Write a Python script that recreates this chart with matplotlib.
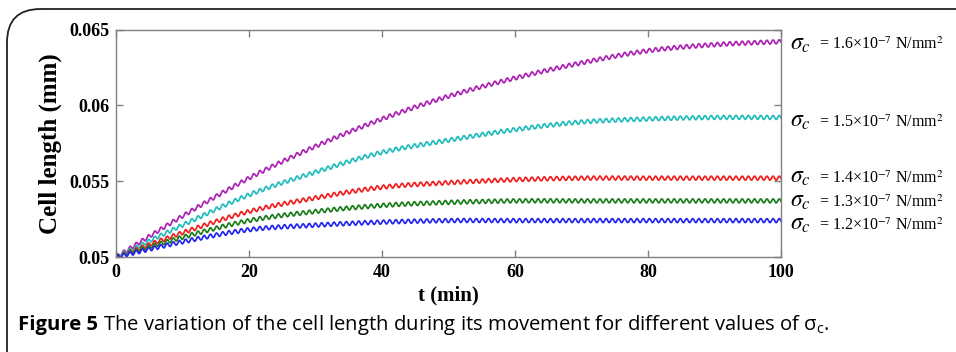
import numpy as np
import matplotlib
matplotlib.use("Agg")
import matplotlib.pyplot as plt
from matplotlib.patches import FancyBboxPatch

# values (cell length in mm, every 10 min)
t_read = [0, 10, 20, 30, 40, 50, 60, 70, 80, 90, 100]
len_16 = [0.0500, 0.0527, 0.0552, 0.0573, 0.0591, 0.0606, 0.0618, 0.0628, 0.0636, 0.0640, 0.0642]
len_15 = [0.0500, 0.0521, 0.0541, 0.0556, 0.0569, 0.0577, 0.0584, 0.0589, 0.0591, 0.0592, 0.0592]
len_14 = [0.0500, 0.0516, 0.0530, 0.0539, 0.0546, 0.0549, 0.0551, 0.0552, 0.0552, 0.0552, 0.0552]
len_13 = [0.0500, 0.0513, 0.0524, 0.0530, 0.0534, 0.0536, 0.0537, 0.0537, 0.0537, 0.0537, 0.0537]
len_12 = [0.0500, 0.0510, 0.0518, 0.0521, 0.0523, 0.0524, 0.0524, 0.0524, 0.0524, 0.0524, 0.0524]
sigma_labels = ["1.6", "1.5", "1.4", "1.3", "1.2"]

# ripple seen on every curve (period in min, half peak-to-peak in mm)
ripple_period = 0.93
ripple_amp = 0.00013

colors = ["#ac22b4", "#22bcbc", "#f02020", "#1a7d1a", "#2424f0"]
label_y = [0.06405, 0.05895, 0.05525, 0.05365, 0.05215]


def hermite(tk, yk, t):
    tk = np.asarray(tk, float)
    yk = np.asarray(yk, float)
    m = np.gradient(yk, tk)
    i = np.clip(np.searchsorted(tk, t) - 1, 0, len(tk) - 2)
    h = tk[i + 1] - tk[i]
    s = (t - tk[i]) / h
    h00 = 2 * s**3 - 3 * s**2 + 1
    h10 = s**3 - 2 * s**2 + s
    h01 = -2 * s**3 + 3 * s**2
    h11 = s**3 - s**2
    return h00 * yk[i] + h10 * h * m[i] + h01 * yk[i + 1] + h11 * h * m[i + 1]


fig = plt.figure(figsize=(9.56, 3.52), dpi=100)
W, H = 956, 352

# rounded frame around the figure panel
frame = FancyBboxPatch((7 / W, -0.2), 1.2, 0.2 + (H - 9) / H,
                       boxstyle="round,pad=0,rounding_size=0.035",
                       transform=fig.transFigure, fill=False,
                       edgecolor="#222222", linewidth=1.3, mutation_aspect=W / H)
fig.patches.append(frame)

ax = fig.add_axes([116 / W, 1 - 257 / H, 665 / W, 227.5 / H])

t = np.linspace(0, 100, 8000)
ripple = ripple_amp * np.sin(2 * np.pi * t / ripple_period)
series = [len_16, len_15, len_14, len_13, len_12]
for vals, c in zip(series, colors):
    ax.plot(t, hermite(t_read, vals, t) + ripple, color=c, linewidth=1.25)

ax.set_xlim(0, 100)
ax.set_ylim(0.05, 0.065)
ax.set_xticks([0, 20, 40, 60, 80, 100])
ax.set_yticks([0.05, 0.055, 0.06, 0.065])
ax.set_yticklabels(["0.05", "0.055", "0.06", "0.065"])
for s in ax.spines.values():
    s.set_color("#808080")
    s.set_linewidth(1.0)
ax.tick_params(direction="in", top=True, right=True, length=5, width=1.0,
               color="#808080", labelsize=13, pad=5)
for lab in ax.get_xticklabels() + ax.get_yticklabels():
    lab.set_fontfamily("Liberation Serif")
    lab.set_fontweight("bold")

ax.set_xlabel("t (min)", fontfamily="Liberation Serif", fontweight="bold",
              fontsize=15, labelpad=3)
ax.set_ylabel("Cell length (mm)", fontfamily="Liberation Serif", fontweight="bold",
              fontsize=18, labelpad=5)

# curve labels on the right
for lab, y in zip(sigma_labels, label_y):
    ax.annotate(r"$\sigma_c$", xy=(100, y), xycoords="data", xytext=(6.5, -4),
                textcoords="offset points", fontsize=17, va="baseline",
                annotation_clip=False, math_fontfamily="stix")
    ax.annotate("= " + lab + "×10$^{-7}$ N/mm$^{2}$", xy=(100, y), xycoords="data",
                xytext=(27, -4), textcoords="offset points", fontsize=11.5,
                va="baseline", annotation_clip=False,
                fontfamily="Liberation Serif", math_fontfamily="stix")

# caption
fig.canvas.draw()
cap1 = fig.text(18 / W, 1 - 325 / H, "Figure 5", fontfamily="Open Sans",
                fontweight="bold", fontsize=14.6, va="center")
r = fig.canvas.get_renderer()
bb = cap1.get_window_extent(renderer=r)
fig.text(bb.x1 / W + 5 / W, 1 - 325 / H,
         "The variation of the cell length during its movement for different values of σ$_\\mathregular{c}$.",
         fontfamily="Open Sans", fontsize=14.6, va="center")

fig.savefig("out.png", dpi=100)
